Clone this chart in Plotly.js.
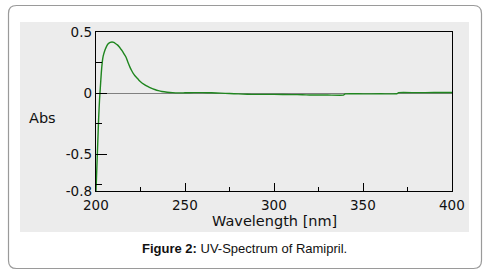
<!DOCTYPE html>
<html>
<head>
<meta charset="utf-8">
<script src="https://cdn.plot.ly/plotly-3.0.1.min.js"></script>
<style>html,body{margin:0;padding:0;background:#fff;}#chart{width:487px;height:275px;}</style>
</head>
<body>
<div id="chart"></div>
<script>
// ---- data ----
const wavelength = [200,200.5,201,201.5,202,202.5,203,203.5,204,205,206,207,208,209,210,211,212,213,214,215,216,217,218,219,220,221,222,223,224,225,227,229,231,233,235,237,240,243,246,250,255,260,265,270,275,280,285,290,300,310,316,320,330,339,340,350,360,369,370,380,390,400];
const absorbance = [-0.8,-0.6,-0.4,-0.2,-0.05,0.06,0.17,0.25,0.3,0.35,0.385,0.405,0.415,0.418,0.415,0.405,0.395,0.38,0.36,0.34,0.315,0.29,0.25,0.215,0.185,0.16,0.14,0.124,0.108,0.094,0.072,0.055,0.041,0.03,0.021,0.014,0.008,0.004,0.002,0.003,0.004,0.004,0.003,0.0,-0.003,-0.006,-0.009,-0.01,-0.01,-0.012,-0.013,-0.015,-0.015,-0.016,-0.006,-0.006,-0.005,-0.005,0.004,0.004,0.005,0.005];
const xTickVals = [200,250,300,350,400];
const xTickText = ['200','250','300','350','400'];
const xMinorVals = [225,275,325,375];
const yTickVals = [-0.8,-0.5,0,0.5];
const yTickText = ['-0.8','-0.5','0','0.5'];
const yMinorVals = [-0.75,-0.25,0.25];
const xTitle = 'Wavelength [nm]';
const yTitle = 'Abs';
const caption = '<b>Figure 2:</b> UV-Spectrum of Ramipril.';

// ---- layout geometry ----
const W = 487, H = 275;
const M = {l:96, r:35, t:32, b:84};
const pw = W - M.l - M.r, ph = H - M.t - M.b;
const px = x => (x - M.l) / pw;
const py = y => (H - M.b - y) / ph;

function roundRectPath(x0, y0, x1, y1, r) {
  const P = (x, y) => px(x) + ',' + py(y);
  return 'M' + P(x0 + r, y0) + ' L' + P(x1 - r, y0) + ' Q' + P(x1, y0) + ' ' + P(x1, y0 + r) +
         ' L' + P(x1, y1 - r) + ' Q' + P(x1, y1) + ' ' + P(x1 - r, y1) +
         ' L' + P(x0 + r, y1) + ' Q' + P(x0, y1) + ' ' + P(x0, y1 - r) +
         ' L' + P(x0, y0 + r) + ' Q' + P(x0, y0) + ' ' + P(x0 + r, y0) + ' Z';
}

const tickFont = {family: 'DejaVu Sans', size: 13.5, color: '#111'};

const trace = {
  x: wavelength, y: absorbance, type: 'scatter', mode: 'lines',
  line: {color: '#1f861f', width: 1.4, shape: 'spline', smoothing: 0.5},
  hoverinfo: 'skip', cliponaxis: true
};

// x tick labels placed through the x axis scale
const xLabelAnns = xTickVals.map((v, i) => ({
  text: xTickText[i], xref: 'x', yref: 'paper', x: v, y: py(205),
  xanchor: 'center', yanchor: 'middle', showarrow: false, font: tickFont
}));

const layout = {
  width: W, height: H,
  margin: M,
  paper_bgcolor: '#ffffff',
  plot_bgcolor: '#ececec',
  showlegend: false,
  font: {family: 'Liberation Sans, Arial, sans-serif', color: '#111'},
  xaxis: {
    range: [200, 400], tickmode: 'array', tickvals: xTickVals, ticktext: xTickText,
    ticks: 'inside', ticklen: 8, tickwidth: 1, tickcolor: '#000',
    minor: {tickmode: 'array', tickvals: xMinorVals, ticks: 'inside', ticklen: 4, tickwidth: 1, tickcolor: '#000', showgrid: false},
    showgrid: false, zeroline: false, showticklabels: false,
    showline: true, mirror: true, linecolor: '#000', linewidth: 1.2,
    fixedrange: true
  },
  yaxis: {
    range: [-0.8, 0.5], tickmode: 'array', tickvals: yTickVals, ticktext: yTickText,
    ticks: 'inside', ticklen: 11, tickwidth: 1, tickcolor: '#000',
    minor: {tickmode: 'array', tickvals: yMinorVals, ticks: 'inside', ticklen: 6, tickwidth: 1, tickcolor: '#000', showgrid: false},
    showgrid: false, zeroline: true, zerolinecolor: '#808080', zerolinewidth: 1.3,
    showline: true, mirror: true, linecolor: '#000', linewidth: 1.2,
    tickfont: tickFont, fixedrange: true
  },
  shapes: [
    {type: 'path', xref: 'paper', yref: 'paper', layer: 'below',
     path: roundRectPath(8.5, 5.5, 481.5, 268.5, 8), line: {color: '#9a9a9a', width: 1.2}, fillcolor: '#ffffff'},
    {type: 'rect', xref: 'paper', yref: 'paper', layer: 'below',
     x0: px(20), x1: px(469), y0: py(232), y1: py(22), line: {width: 0}, fillcolor: '#ececec'}
  ],
  annotations: xLabelAnns.concat([
    {text: xTitle, xref: 'paper', yref: 'paper', x: px(274), y: py(221), xanchor: 'center', yanchor: 'middle',
     showarrow: false, font: {family: 'DejaVu Sans', size: 14.5, color: '#111'}},
    {text: yTitle, xref: 'paper', yref: 'paper', x: px(27), y: py(118), xanchor: 'left', yanchor: 'middle',
     showarrow: false, font: {family: 'DejaVu Sans', size: 14.5, color: '#111'}},
    {text: caption, xref: 'paper', yref: 'paper', x: px(244), y: py(248), xanchor: 'center', yanchor: 'middle',
     showarrow: false, font: {family: 'Liberation Sans, Arial, sans-serif', size: 13, color: '#111'}}
  ])
};

Plotly.newPlot('chart', [trace], layout, {staticPlot: true, displayModeBar: false});
</script>
</body>
</html>
